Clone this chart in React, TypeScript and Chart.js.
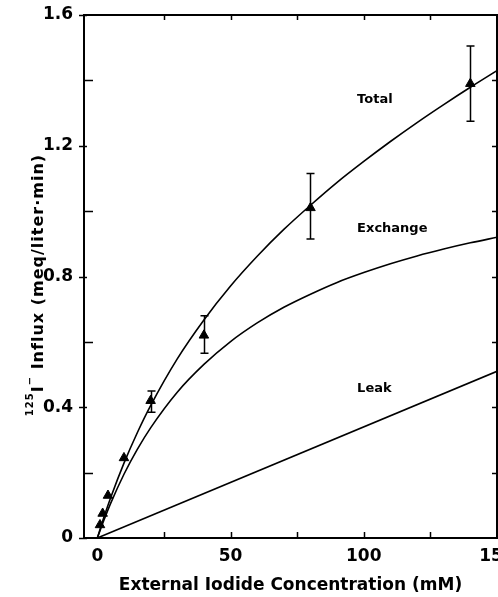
import React, { useEffect, useRef } from 'react';
import { Chart, registerables } from 'chart.js';

Chart.register(...registerables);

// Measured data points (triangles) with error bars
const pointX = [1, 2, 4, 10, 20, 40, 80, 140];
const pointY = [0.04, 0.075, 0.13, 0.245, 0.42, 0.62, 1.01, 1.39];
const errLow = [null, null, null, null, 0.385, 0.565, 0.915, 1.275];
const errHigh = [null, null, null, null, 0.45, 0.68, 1.115, 1.505];

// Fitted curves
const curveX = [0, 2.5, 5, 10, 15, 20, 30, 40, 50, 60, 70, 80, 90, 100, 110, 120, 130, 140, 150];
const totalY = [0, 0.064, 0.123, 0.229, 0.322, 0.405, 0.548, 0.667, 0.771, 0.862, 0.944, 1.018, 1.088, 1.152, 1.213, 1.271, 1.326, 1.379, 1.43];
const exchangeY = [0, 0.055, 0.106, 0.195, 0.271, 0.337, 0.446, 0.531, 0.601, 0.658, 0.706, 0.746, 0.782, 0.812, 0.839, 0.863, 0.884, 0.903, 0.92];
const leakX = [0, 150];
const leakY = [0, 0.51];

// Axis ticks
const xTickLabels = [0, 50, 100, 150];
const yTickLabels = [0, 0.4, 0.8, 1.2, 1.6];
const xFrameTicks = [25, 50, 75, 100, 125];
const yFrameTicks = [0, 0.2, 0.4, 0.6, 0.8, 1.0, 1.2, 1.4, 1.6];

// Curve labels
const curveLabels = ['Total', 'Exchange', 'Leak'];
const curveLabelX = [97.5, 97.5, 97.5];
const curveLabelY = [1.34, 0.945, 0.456];

const FONT = "'DejaVu Sans', sans-serif";

const framePlugin = {
  id: 'frame',
  afterDatasetsDraw(chart: any) {
    const { ctx, chartArea, scales } = chart;
    const { left, right, top, bottom } = chartArea;
    const x = scales.x;
    const y = scales.y;
    ctx.save();
    ctx.strokeStyle = '#000';
    ctx.lineWidth = 2;
    ctx.strokeRect(left, top, right - left, bottom - top);
    ctx.lineWidth = 1.5;
    ctx.beginPath();
    for (const v of xFrameTicks) {
      const px = Math.round(x.getPixelForValue(v)) + 0.5;
      ctx.moveTo(px, bottom);
      ctx.lineTo(px, bottom - 6);
      ctx.moveTo(px, top);
      ctx.lineTo(px, top + 5);
    }
    for (const v of yFrameTicks) {
      const py = Math.round(y.getPixelForValue(v)) + 0.5;
      const major = yTickLabels.some((t) => Math.abs(t - v) < 1e-9);
      if (major) {
        ctx.moveTo(left - 5, py);
        ctx.lineTo(left + 3, py);
      } else {
        ctx.moveTo(left, py);
        ctx.lineTo(left + 9, py);
      }
      if (v > 0 && v < 1.6) {
        ctx.moveTo(right, py);
        ctx.lineTo(right - 5, py);
      }
    }
    ctx.stroke();
    ctx.restore();
  },
};

const errorBarPlugin = {
  id: 'errorBars',
  beforeDatasetsDraw(chart: any) {
    const { ctx, scales } = chart;
    const x = scales.x;
    const y = scales.y;
    ctx.save();
    ctx.strokeStyle = '#000';
    ctx.lineWidth = 1.5;
    ctx.beginPath();
    pointX.forEach((vx, i) => {
      const lo = errLow[i];
      const hi = errHigh[i];
      if (lo == null || hi == null) return;
      const px = Math.round(x.getPixelForValue(vx)) + 0.5;
      const pLo = y.getPixelForValue(lo);
      const pHi = y.getPixelForValue(hi);
      ctx.moveTo(px, pLo);
      ctx.lineTo(px, pHi);
      ctx.moveTo(px - 4, pLo);
      ctx.lineTo(px + 4, pLo);
      ctx.moveTo(px - 4, pHi);
      ctx.lineTo(px + 4, pHi);
    });
    ctx.stroke();
    ctx.restore();
  },
};

const labelPlugin = {
  id: 'curveLabels',
  afterDraw(chart: any) {
    const { ctx, scales } = chart;
    ctx.save();
    ctx.fillStyle = '#000';
    ctx.font = `bold 13px ${FONT}`;
    ctx.textAlign = 'left';
    ctx.textBaseline = 'middle';
    curveLabels.forEach((t, i) => {
      ctx.fillText(t, scales.x.getPixelForValue(curveLabelX[i]), scales.y.getPixelForValue(curveLabelY[i]));
    });

    // Y-axis title with superscripts
    const pieces = [
      { t: '125', sup: true },
      { t: 'I', sup: false },
      { t: '\u2212', sup: true },
      { t: ' Influx (meq/liter\u00B7min)', sup: false },
    ];
    const mainFont = `bold 16px ${FONT}`;
    const supFont = `bold 10px ${FONT}`;
    try {
      (ctx as any).letterSpacing = '1px';
    } catch (e) {
      /* ignore */
    }
    let total = 0;
    const widths = pieces.map((p) => {
      ctx.font = p.sup ? supFont : mainFont;
      const w = ctx.measureText(p.t).width;
      total += w;
      return w;
    });
    ctx.translate(43, 285);
    ctx.rotate(-Math.PI / 2);
    ctx.textBaseline = 'alphabetic';
    let cx = -total / 2;
    pieces.forEach((p, i) => {
      ctx.font = p.sup ? supFont : mainFont;
      ctx.fillText(p.t, cx, p.sup ? -10 : 0);
      cx += widths[i];
    });
    ctx.restore();
  },
};

export default function App() {
  const canvasRef = useRef<HTMLCanvasElement | null>(null);

  useEffect(() => {
    const canvas = canvasRef.current;
    if (!canvas) return;
    Chart.defaults.color = '#000';
    const lineStyle = {
      borderColor: '#000',
      borderWidth: 1.6,
      pointRadius: 0,
      showLine: true,
      fill: false,
      cubicInterpolationMode: 'monotone' as const,
    };
    const chart = new Chart(canvas, {
      type: 'scatter',
      data: {
        datasets: [
          { label: 'Total', data: curveX.map((v, i) => ({ x: v, y: totalY[i] })), ...lineStyle },
          { label: 'Exchange', data: curveX.map((v, i) => ({ x: v, y: exchangeY[i] })), ...lineStyle },
          { label: 'Leak', data: leakX.map((v, i) => ({ x: v, y: leakY[i] })), ...lineStyle },
          {
            label: 'Measured',
            data: pointX.map((v, i) => ({ x: v, y: pointY[i] })),
            showLine: false,
            pointStyle: 'triangle',
            pointRadius: 5.5,
            backgroundColor: '#000',
            borderColor: '#000',
            borderWidth: 1,
          },
        ],
      },
      options: {
        responsive: false,
        animation: false,
        layout: { autoPadding: false, padding: { top: 15, right: 1, left: 0, bottom: 0 } },
        plugins: { legend: { display: false }, tooltip: { enabled: false } },
        scales: {
          x: {
            type: 'linear',
            min: -5,
            max: 150,
            grid: { display: false, drawTicks: false },
            border: { display: false },
            afterBuildTicks: (s: any) => {
              s.ticks = xTickLabels.map((v) => ({ value: v }));
            },
            afterFit: (s: any) => {
              s.height = 59;
              s.paddingLeft = 0;
              s.paddingRight = 0;
            },
            ticks: {
              padding: 8,
              maxRotation: 0,
              autoSkip: false,
              font: { family: FONT, weight: 'bold', size: 17 },
              callback: (v: any) => String(v),
            },
            title: {
              display: true,
              text: 'External Iodide Concentration (mM)',
              font: { family: FONT, weight: 'bold', size: 17 },
              padding: { top: 0, bottom: 1 },
            },
          },
          y: {
            type: 'linear',
            min: 0,
            max: 1.6,
            grid: { display: false, drawTicks: false },
            border: { display: false },
            afterBuildTicks: (s: any) => {
              s.ticks = yTickLabels.map((v) => ({ value: v }));
            },
            afterFit: (s: any) => {
              s.width = 84;
              s.paddingTop = 0;
              s.paddingBottom = 0;
            },
            ticks: {
              padding: 11,
              autoSkip: false,
              font: { family: FONT, weight: 'bold', size: 17 },
              callback: (v: any) => (v === 0 ? '0' : Number(v).toFixed(1)),
            },
          },
        },
      },
      plugins: [errorBarPlugin, framePlugin, labelPlugin],
    });
    return () => chart.destroy();
  }, []);

  return (
    <div style={{ position: 'fixed', left: 0, top: 0, width: 498, height: 597, background: '#fff' }}>
      <canvas ref={canvasRef} width={498} height={597} />
    </div>
  );
}
